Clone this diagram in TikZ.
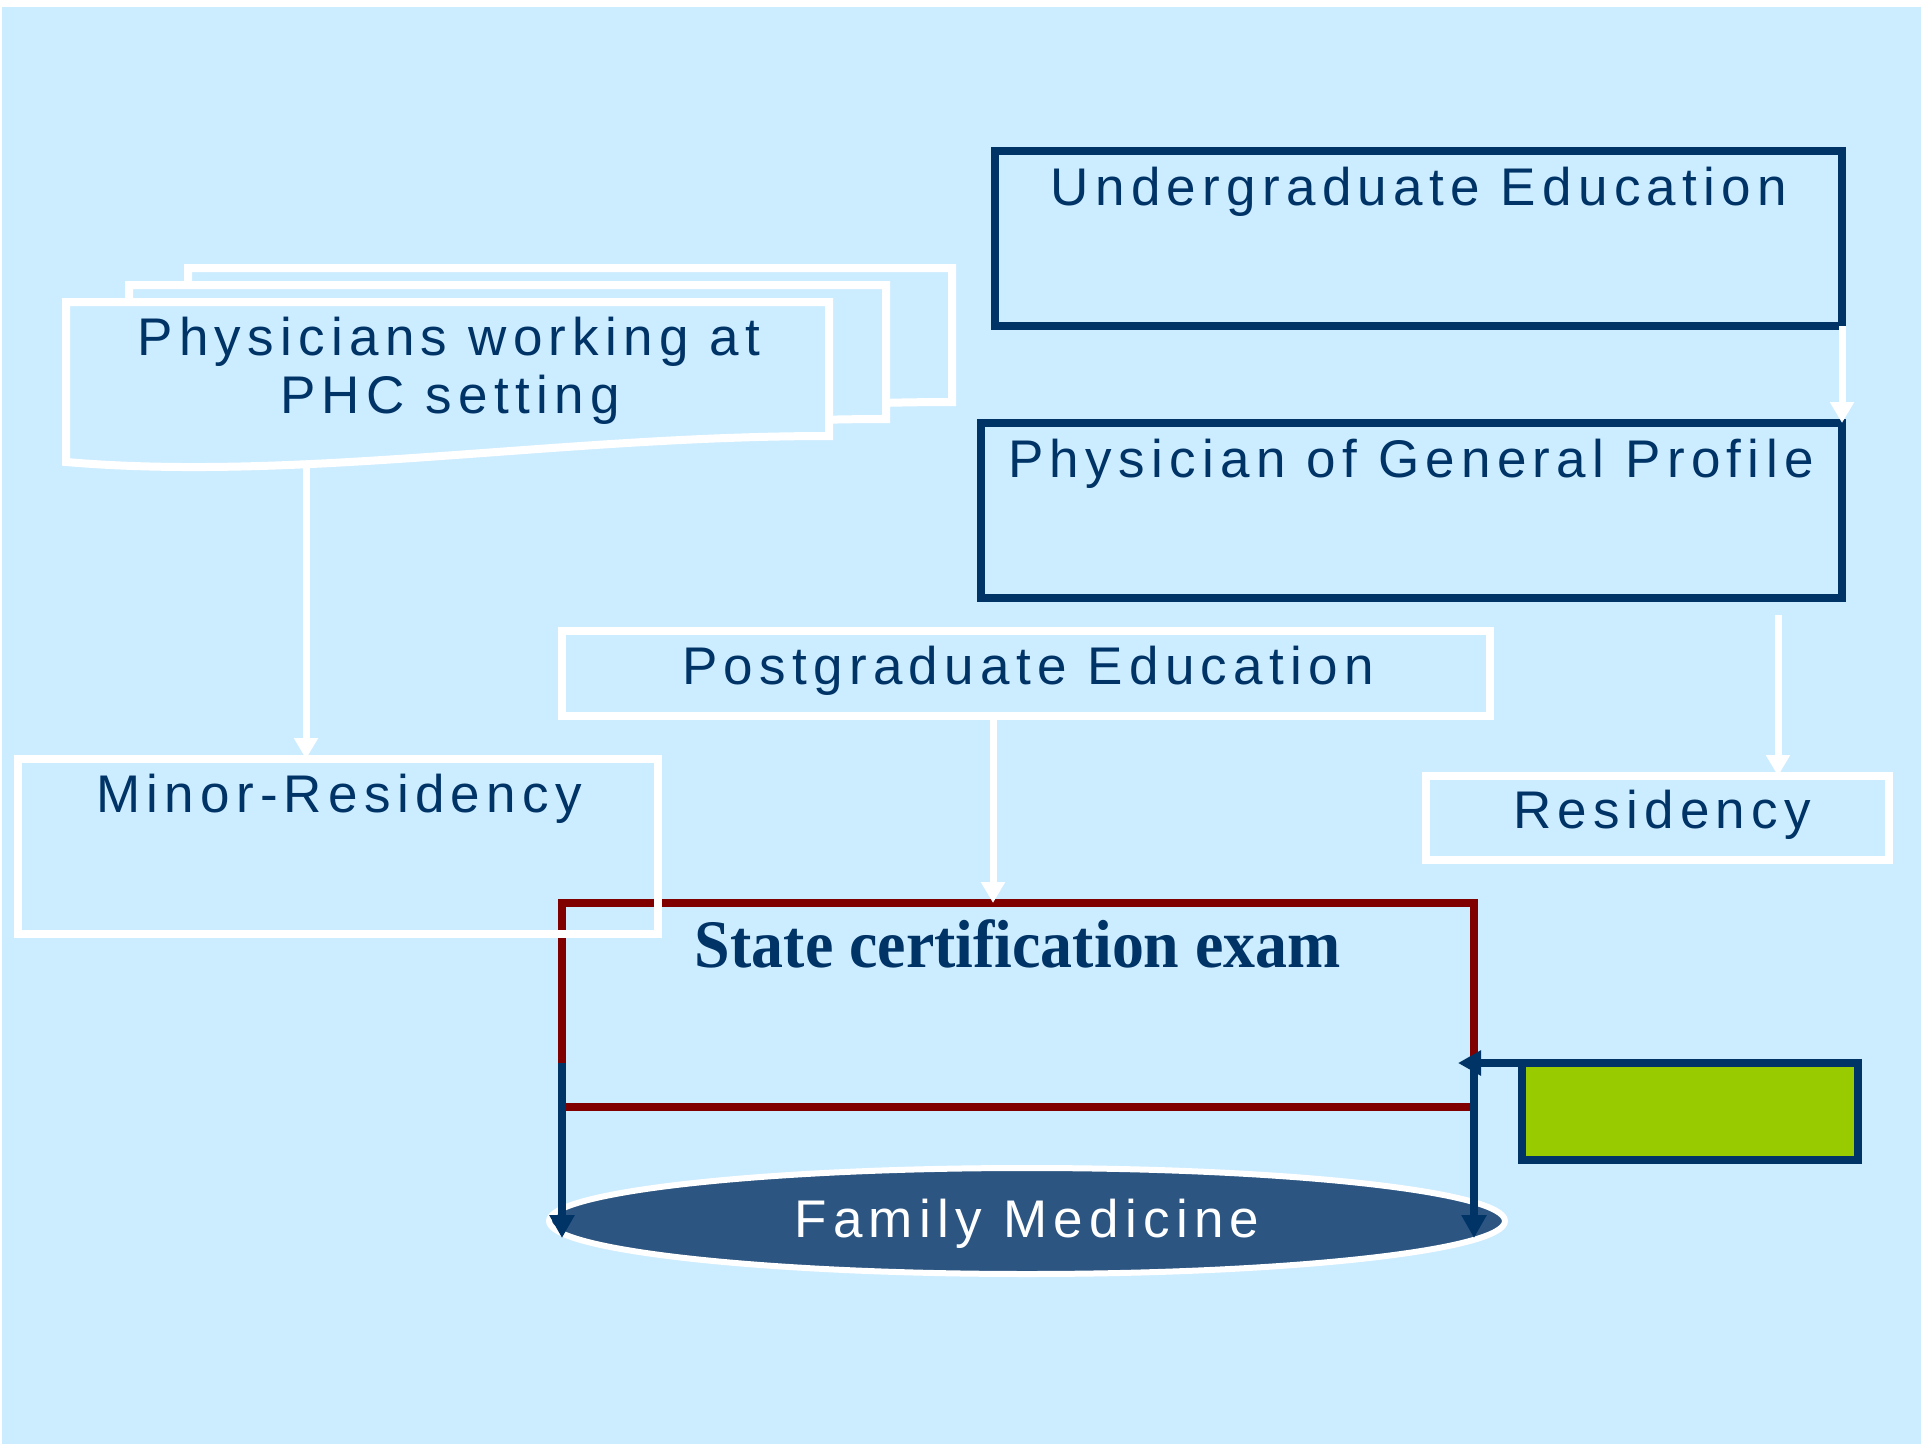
\documentclass[tikz,border=0pt]{standalone}
\usepackage{fontspec}
\setmainfont{Liberation Sans}
\newfontfamily\boxfont[LetterSpace=11.9]{Liberation Sans}
\newfontfamily\examfont[FakeStretch=0.94]{Liberation Serif}
\usetikzlibrary{arrows.meta,shapes.geometric}

\definecolor{sky}{HTML}{CCECFF}
\definecolor{navy}{HTML}{003366}
\definecolor{maroon}{HTML}{800000}
\definecolor{lime}{HTML}{99CC00}
\definecolor{fmblue}{HTML}{2C5582}

\begin{document}
\begin{tikzpicture}[x=1pt,y=-1pt,
  box/.style={rectangle, line width=8pt, inner sep=0pt, outer sep=0pt},
  navybox/.style={box, draw=navy},
  whitebox/.style={box, draw=white},
  lbl/.style={font=\boxfont\fontsize{53}{58}\selectfont, text=navy, anchor=base, inner sep=0pt},
  doc/.style={fill=sky, draw=white, line width=8pt},
  warrow/.style={draw=white, line width=7pt, -{Triangle[length=21pt,width=23pt]}},
  narrow/.style={draw=navy, line width=8pt, -{Triangle[length=23pt,width=24pt]}},
  redline/.style={draw=maroon, line width=8pt}
]
% canvas and slide background
\useasboundingbox (0,0) rectangle (1923,1445);
\fill[white] (0,0) rectangle (1923,1445);
\fill[sky] (2,7) rectangle (1921,1444);

% stacked documents: physicians at PHC
\filldraw[doc] (188,268) -- (952,268) -- (952,402)
  .. controls (682,402) and (422,448) .. (188,428) -- cycle;
\filldraw[doc] (129,285) -- (886,285) -- (886,419)
  .. controls (623,419) and (363,465) .. (129,445) -- cycle;
\filldraw[doc] (66,302) -- (829,302) -- (829,436)
  .. controls (560,436) and (300,482) .. (66,462) -- cycle;
\coordinate (phcb) at (306,467);
\node[lbl] (phc1) at (449,355) {Physicians working at};
\node[lbl] (phc2) at (450,413) {PHC setting};

% undergraduate and general profile boxes
\node[navybox, minimum width=847pt, minimum height=175pt] (ug) at (1418.5,238.5) {};
\node[lbl] (ugt) at (1419,205) {Undergraduate Education};
\node[navybox, minimum width=861pt, minimum height=175pt] (pg) at (1411.5,510.5) {};
\node[lbl] (pgt) at (1411,477) {Physician of General Profile};

% postgraduate and residency boxes
\node[whitebox, minimum width=928pt, minimum height=85pt] (pgr) at (1026,673.5) {};
\node[lbl] (pgrt) at (1028,684) {Postgraduate Education};
\node[whitebox, minimum width=463pt, minimum height=84pt] (res) at (1657.5,818) {};
\node[lbl] (rest) at (1662,828) {Residency};

% state certification exam frame
\node[box, minimum width=912pt, minimum height=204pt] (st) at (1018,1005) {};
\coordinate (stL) at (562,1063);
\coordinate (stR) at (1474,1063);
\draw[redline] (stL) -- (st.north west) -- (st.north east) -- (stR);
\draw[redline] (st.south west) -- (st.south east);
\node[anchor=base, inner sep=0pt, text=navy,
  font=\examfont\bfseries\fontsize{68}{72}\selectfont] (stt) at (1018,967) {State certification exam};

% minor residency box
\node[whitebox, minimum width=640pt, minimum height=175pt] (mr) at (338,846.5) {};
\node[lbl] (mrt) at (339,812) {Minor-Residency};

% green box
\node[navybox, fill=lime, minimum width=336pt, minimum height=97pt] (gr) at (1690,1111.5) {};

% family medicine ellipse
\node[ellipse, draw=white, fill=fmblue, line width=6pt, inner sep=0pt, outer sep=0pt,
  minimum width=956pt, minimum height=106pt, text=white,
  font=\boxfont\fontsize{53}{58}\selectfont, text height=38pt, text depth=6pt] (fm) at (1027,1221) {Family Medicine};
\coordinate (fmL) at (562,1238);
\coordinate (fmR) at (1474,1238);

% white connectors
\draw[warrow] (ug.south east) -- (ug.south east |- pg.north);
\draw[warrow] ([xshift=-64pt,yshift=-17pt]pg.south east) -- ([xshift=-64pt]pg.south east |- res.north);
\draw[warrow] (phcb) -- (phcb |- mr.north);
\draw[warrow] ([xshift=-33pt]pgr.south) -- ([xshift=-33pt]pgr.south |- st.north);

% navy connectors
\draw[narrow] (gr.north west) -- ([xshift=-16pt]stR);
\draw[narrow] (stL) -- (fmL);
\draw[narrow] (stR) -- (fmR);
\end{tikzpicture}
\end{document}
